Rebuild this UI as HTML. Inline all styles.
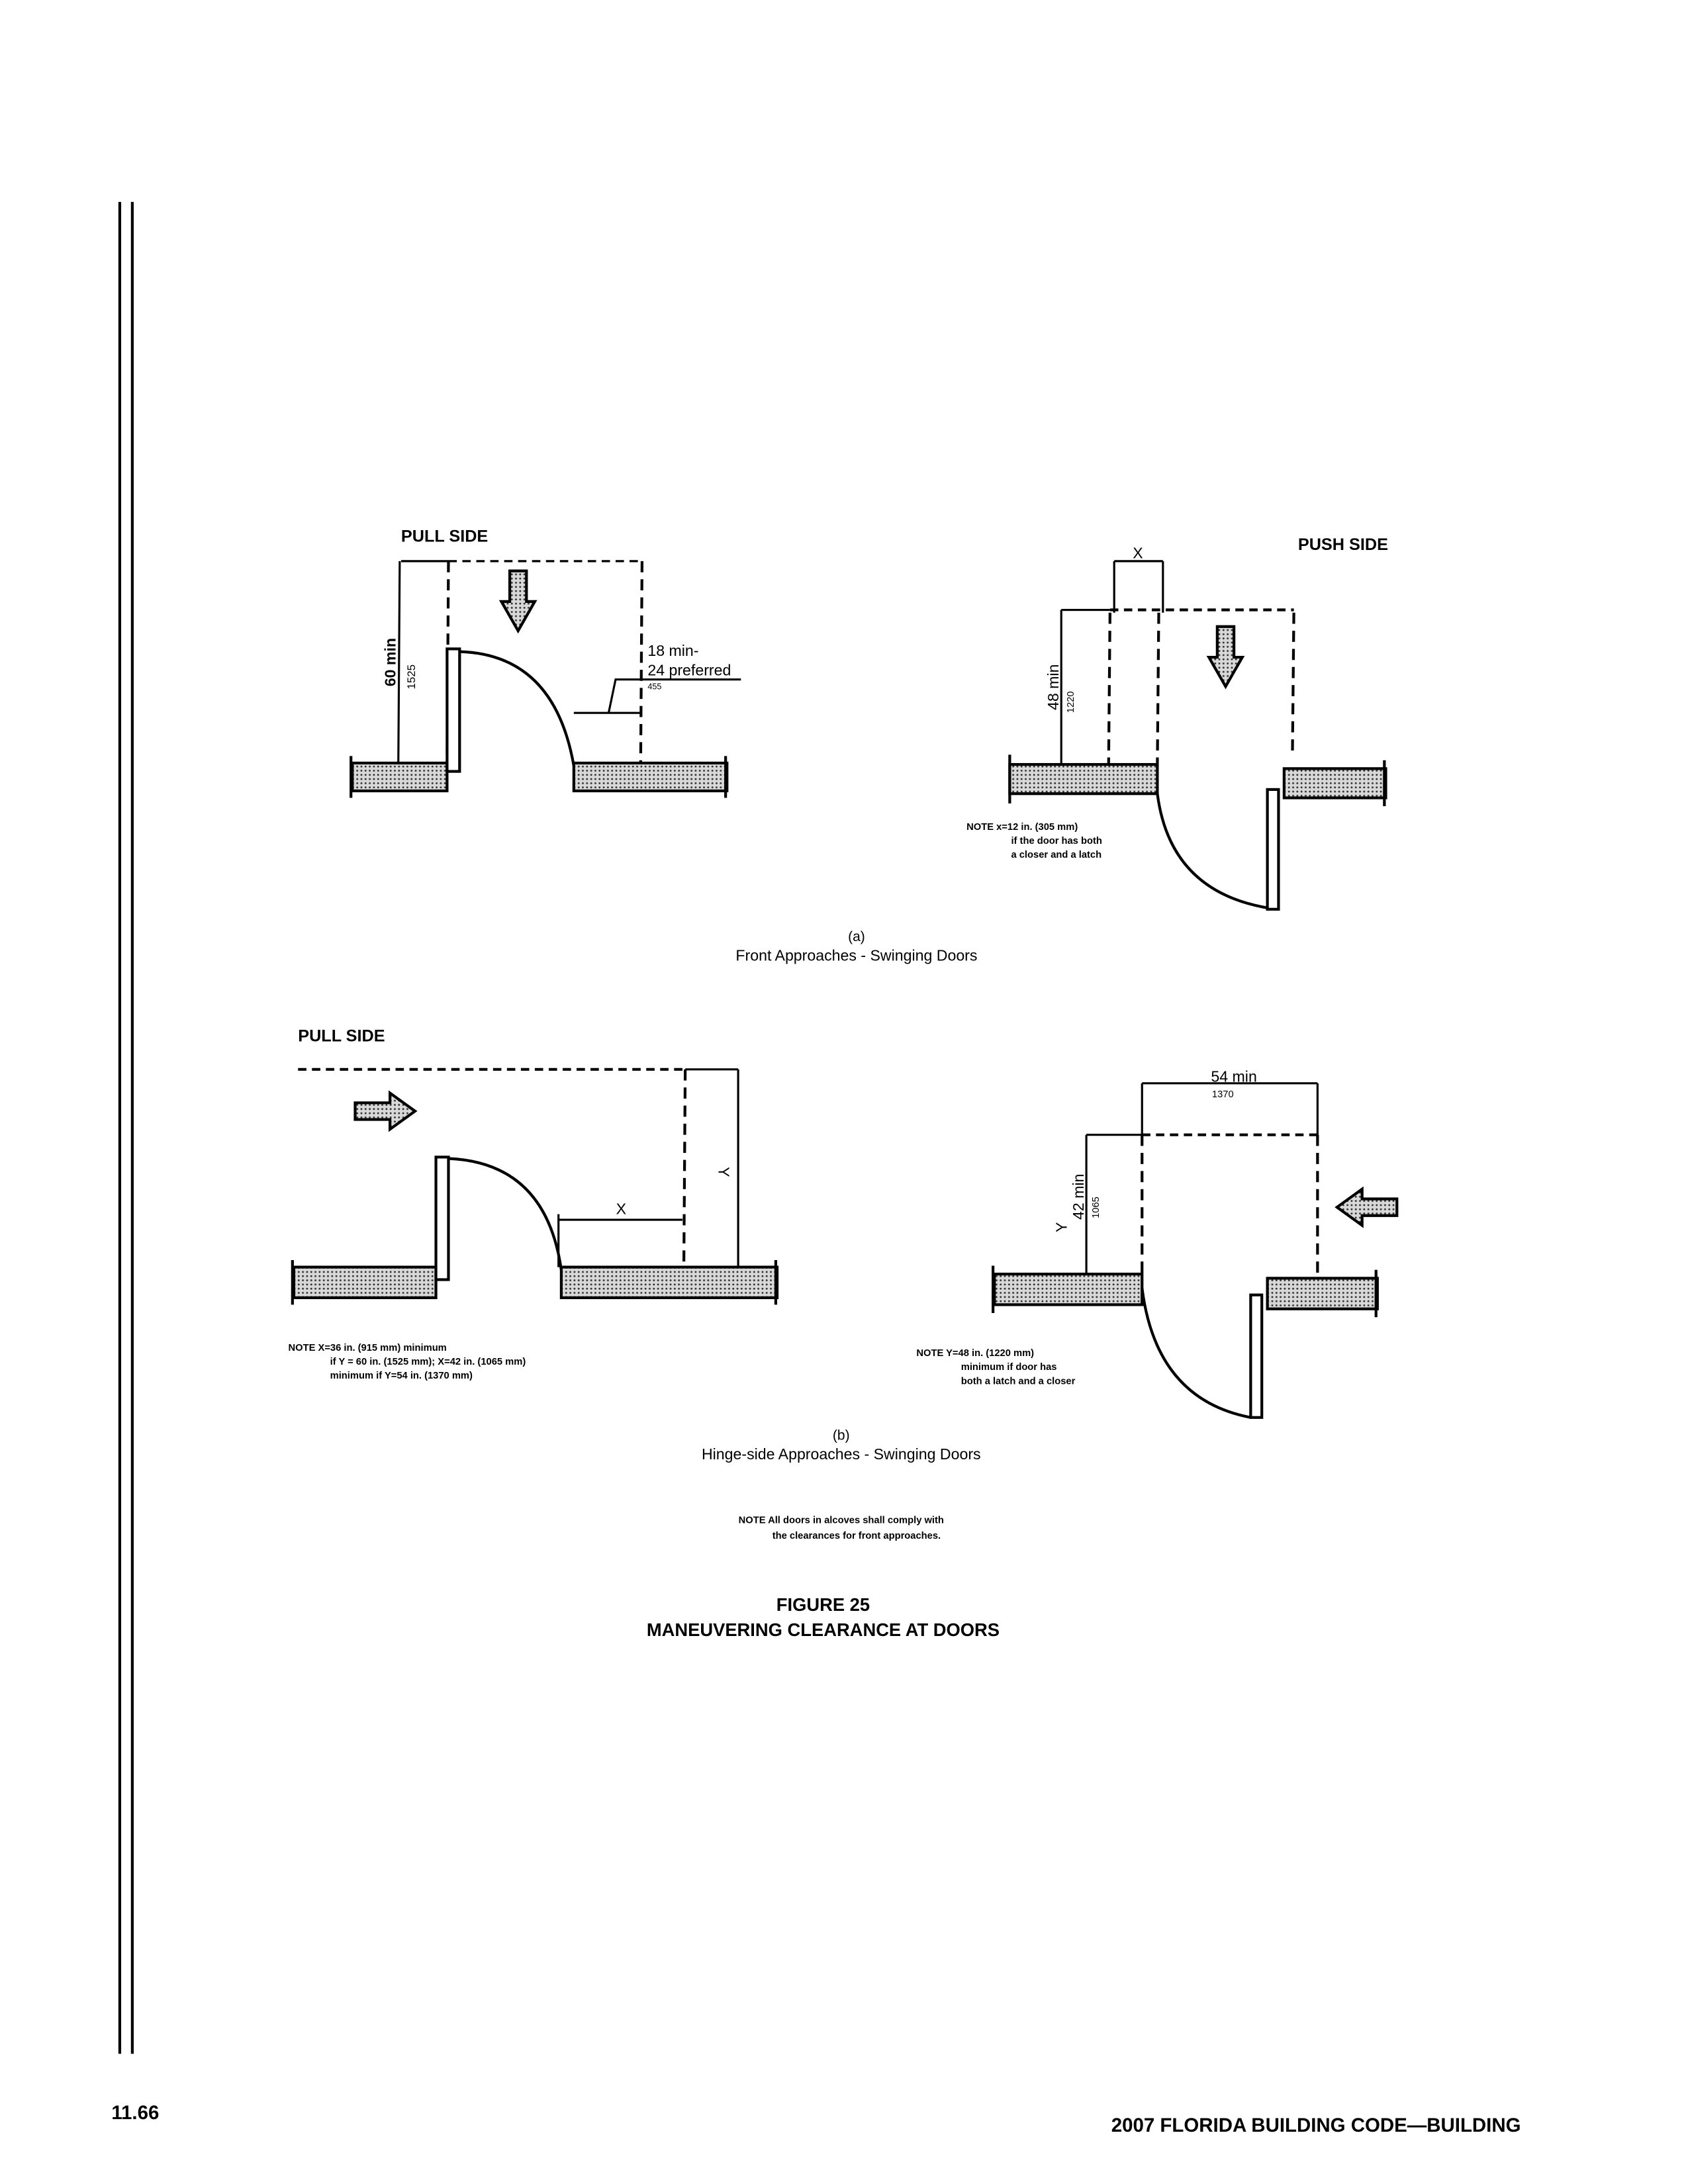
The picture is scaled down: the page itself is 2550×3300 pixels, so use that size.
<!DOCTYPE html>
<html><head><meta charset="utf-8"><style>
html,body{margin:0;padding:0;background:#fff}
svg{display:block}
text{font-family:"Liberation Sans",Arial,sans-serif;fill:#000}
</style></head><body>
<svg width="2550" height="3300" viewBox="0 0 1212 1568.5" preserveAspectRatio="none" xmlns="http://www.w3.org/2000/svg">
<defs>
<pattern id="dots" width="3" height="3" patternUnits="userSpaceOnUse">
<rect width="3" height="3" fill="#d8d8d8"/><circle cx="1.5" cy="1.5" r="0.7" fill="#333"/>
</pattern>
<g id="arrowD">
<path d="M-6,-22 H6 V0 H12 L0,21 L-12,0 H-6 Z" fill="url(#dots)" stroke="#000" stroke-width="2"/>
</g>
</defs>
<!-- margin lines -->
<line x1="86" y1="145" x2="86" y2="1475" stroke="#000" stroke-width="2"/>
<line x1="95" y1="145" x2="95" y2="1475" stroke="#000" stroke-width="2"/>

<g stroke="#000" fill="none" stroke-width="1.5">
<!-- ===== top-left ===== -->
<line x1="288" y1="403" x2="322" y2="403"/>
<line x1="322" y1="403" x2="462" y2="403" stroke-dasharray="6,4"/>
<line x1="287" y1="403" x2="286" y2="548"/>
<line x1="322" y1="403" x2="321" y2="548" stroke-dasharray="8,5" stroke-width="2"/>
<line x1="461" y1="403" x2="460" y2="548" stroke-dasharray="8,5" stroke-width="2"/>
<rect x="253" y="548" width="68" height="20" fill="url(#dots)" stroke-width="2"/>
<rect x="321" y="466" width="9" height="88" fill="#fff" stroke-width="2"/>
<path d="M330,468 Q398,470 412,550" stroke-width="2"/>
<rect x="412" y="548" width="110" height="20" fill="url(#dots)" stroke-width="2"/>
<line x1="252" y1="543" x2="252" y2="573" stroke-width="2"/>
<line x1="521" y1="543" x2="521" y2="573" stroke-width="2"/>
<line x1="412" y1="512" x2="460" y2="512"/>
<polyline points="437,512 442,488 532,488"/>
<use href="#arrowD" x="372" y="432"/>

<!-- ===== top-right ===== -->
<line x1="800" y1="403" x2="835" y2="403"/>
<line x1="800" y1="403" x2="800" y2="440"/>
<line x1="835" y1="403" x2="835" y2="440"/>
<line x1="762" y1="438" x2="797" y2="438"/>
<line x1="797" y1="438" x2="929" y2="438" stroke-dasharray="6,4" stroke-width="2"/>
<line x1="762" y1="438" x2="762" y2="548"/>
<line x1="797" y1="440" x2="796" y2="548" stroke-dasharray="8,5" stroke-width="2"/>
<line x1="832" y1="440" x2="831" y2="548" stroke-dasharray="8,5" stroke-width="2"/>
<line x1="929" y1="440" x2="928" y2="540" stroke-dasharray="8,5" stroke-width="2"/>
<rect x="725" y="549" width="106" height="21" fill="url(#dots)" stroke-width="2"/>
<line x1="725" y1="542" x2="725" y2="577" stroke-width="2"/>
<rect x="922" y="552" width="73" height="21" fill="url(#dots)" stroke-width="2"/>
<line x1="994" y1="546" x2="994" y2="579" stroke-width="2"/>
<rect x="910" y="567" width="8" height="86" fill="#fff" stroke-width="2"/>
<path d="M831,570 Q840,640 910,652" stroke-width="2"/>
<use href="#arrowD" x="880" y="472"/>

<!-- ===== bottom-left ===== -->
<line x1="214" y1="768" x2="492" y2="768" stroke-dasharray="6,4" stroke-width="2"/>
<line x1="492" y1="768" x2="530" y2="768"/>
<line x1="492" y1="768" x2="491" y2="910" stroke-dasharray="8,5" stroke-width="2"/>
<line x1="530" y1="768" x2="530" y2="910"/>
<rect x="211" y="910" width="102" height="22" fill="url(#dots)" stroke-width="2"/>
<line x1="210" y1="905" x2="210" y2="937" stroke-width="2"/>
<rect x="313" y="831" width="9" height="88" fill="#fff" stroke-width="2"/>
<path d="M322,832 Q392,835 403,912" stroke-width="2"/>
<rect x="403" y="910" width="155" height="22" fill="url(#dots)" stroke-width="2"/>
<line x1="557" y1="905" x2="557" y2="937" stroke-width="2"/>
<line x1="401" y1="876" x2="490" y2="876"/>
<line x1="401" y1="872" x2="401" y2="910"/>
<path d="M255,792 H280 V785 L298,798 L280,811 V804 H255 Z" fill="url(#dots)" stroke-width="2"/>

<!-- ===== bottom-right ===== -->
<line x1="820" y1="778" x2="946" y2="778"/>
<line x1="820" y1="778" x2="820" y2="815"/>
<line x1="946" y1="778" x2="946" y2="815"/>
<line x1="780" y1="815" x2="820" y2="815"/>
<line x1="820" y1="815" x2="946" y2="815" stroke-dasharray="6,4" stroke-width="2"/>
<line x1="780" y1="815" x2="780" y2="915"/>
<line x1="820" y1="815" x2="820" y2="915" stroke-dasharray="8,5" stroke-width="2"/>
<line x1="946" y1="815" x2="946" y2="918" stroke-dasharray="8,5" stroke-width="2"/>
<rect x="714" y="915" width="106" height="22" fill="url(#dots)" stroke-width="2"/>
<line x1="713" y1="909" x2="713" y2="943" stroke-width="2"/>
<rect x="910" y="918" width="79" height="22" fill="url(#dots)" stroke-width="2"/>
<line x1="988" y1="912" x2="988" y2="946" stroke-width="2"/>
<rect x="898" y="930" width="8" height="88" fill="#fff" stroke-width="2"/>
<path d="M820,925 Q830,1005 898,1018" stroke-width="2"/>
<path d="M1003,861 H978 V854 L960,867 L978,880 V873 H1003 Z" fill="url(#dots)" stroke-width="2"/>
</g>

<!-- texts -->
<g font-weight="bold">
<text x="288" y="389" font-size="12">PULL SIDE</text>
<text x="932" y="395" font-size="12">PUSH SIDE</text>
<text x="214" y="748" font-size="12">PULL SIDE</text>
<text x="591" y="1157" font-size="13" text-anchor="middle">FIGURE 25</text>
<text x="591" y="1175" font-size="13" text-anchor="middle">MANEUVERING CLEARANCE AT DOORS</text>
<text x="80" y="1522" font-size="14">11.66</text>
<text x="1092" y="1531" font-size="14" text-anchor="end">2007 FLORIDA BUILDING CODE—BUILDING</text>
</g>
<text x="465" y="471" font-size="11">18 min-</text>
<text x="465" y="485" font-size="11">24 preferred</text>
<text x="465" y="495" font-size="6">455</text>
<text transform="translate(284,493) rotate(-90)" font-size="11" font-weight="bold">60 min</text>
<text transform="translate(298,495) rotate(-90)" font-size="8">1525</text>
<text x="817" y="401" font-size="11" text-anchor="middle">X</text>
<text transform="translate(760,510) rotate(-90)" font-size="11">48 min</text>
<text transform="translate(771,512) rotate(-90)" font-size="7">1220</text>
<g font-size="7" font-weight="bold">
<text x="694" y="596">NOTE x=12 in. (305 mm)</text>
<text x="726" y="606">if the door has both</text>
<text x="726" y="616">a closer and a latch</text>
<text x="207" y="970">NOTE X=36 in. (915 mm) minimum</text>
<text x="237" y="980">if Y = 60 in. (1525 mm); X=42 in. (1065 mm)</text>
<text x="237" y="990">minimum if Y=54 in. (1370 mm)</text>
<text x="658" y="974">NOTE Y=48 in. (1220 mm)</text>
<text x="690" y="984">minimum if door has</text>
<text x="690" y="994">both a latch and a closer</text>
<text x="604" y="1094" text-anchor="middle">NOTE All doors in alcoves shall comply with</text>
<text x="615" y="1105" text-anchor="middle">the clearances for front approaches.</text>
</g>
<text x="615" y="676" font-size="10" text-anchor="middle">(a)</text>
<text x="615" y="690" font-size="11" text-anchor="middle">Front Approaches - Swinging Doors</text>
<text x="604" y="1034" font-size="10" text-anchor="middle">(b)</text>
<text x="604" y="1048" font-size="11" text-anchor="middle">Hinge-side Approaches - Swinging Doors</text>
<text x="446" y="872" font-size="11" text-anchor="middle">X</text>
<text transform="translate(516,838) rotate(90)" font-size="11">Y</text>
<text x="886" y="777" font-size="11" text-anchor="middle">54 min</text>
<text x="878" y="788" font-size="7" text-anchor="middle">1370</text>
<text transform="translate(766,885) rotate(-90)" font-size="11">Y</text>
<text transform="translate(778,876) rotate(-90)" font-size="11">42 min</text>
<text transform="translate(789,875) rotate(-90)" font-size="7">1065</text>
</svg>
</body></html>
